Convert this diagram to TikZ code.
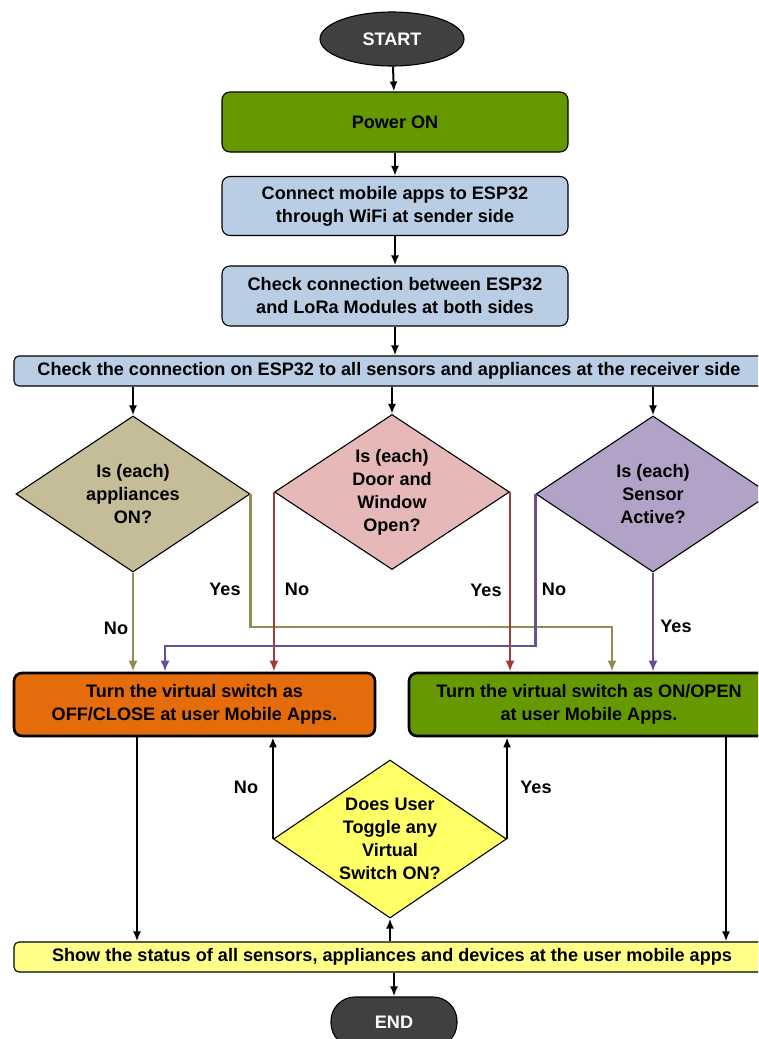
\documentclass[tikz,border=0pt]{standalone}
\usepackage{fontspec}
\setmainfont{Liberation Sans}
\usetikzlibrary{shapes.geometric, arrows.meta}

\begin{document}
\begin{tikzpicture}[x=1pt, y=-1pt, font=\fontsize{18.1}{23}\selectfont\bfseries,
	stepbox/.style={draw, rectangle, rounded corners=8pt, line width=1.1pt, align=center, inner sep=0pt},
	endbox/.style={draw, line width=1.1pt, fill=termgray, text=white, inner sep=0pt},
	askbox/.style={draw, diamond, aspect=1.5, line width=1.1pt, align=center, inner sep=0pt},
	flow/.style={line width=2pt, -{Latex[length=10pt, width=8pt]}},
	branch/.style={line width=2.8pt, -{Latex[length=11pt, width=9pt]}}]

	\definecolor{termgray}{RGB}{64 64 64}
	\definecolor{powergreen}{RGB}{102 153 0}
	\definecolor{stepblue}{RGB}{185 205 229}
	\definecolor{apptan}{RGB}{196 189 151}
	\definecolor{appline}{RGB}{148 138 84}
	\definecolor{doorpink}{RGB}{230 185 184}
	\definecolor{doorline}{RGB}{160 60 58}
	\definecolor{sensviolet}{RGB}{179 162 199}
	\definecolor{sensline}{RGB}{106 80 144}
	\definecolor{offorange}{RGB}{228 108 10}
	\definecolor{toggleyellow}{RGB}{255 255 102}
	\definecolor{statusyellow}{RGB}{255 255 136}

	% page
	\useasboundingbox (0,0) rectangle (758,1039);
	\clip (0,0) rectangle (758,1039);

	% sender side
	\node[endbox, ellipse, minimum width=144pt, minimum height=54pt] (start) at (392,39) {START};
	\node[stepbox, fill=powergreen, minimum width=346pt, minimum height=60pt] (power) at (395,122) {Power ON};
	\node[stepbox, fill=stepblue, minimum width=346pt, minimum height=59pt] (wifi) at (395,206) {Connect mobile apps to ESP32\\through WiFi at sender side};
	\node[stepbox, fill=stepblue, minimum width=346pt, minimum height=60pt] (lora) at (395,296) {Check connection between ESP32\\and LoRa Modules at both sides};

	% receiver side
	\node[stepbox, rounded corners=5pt, fill=stepblue, minimum width=750pt, minimum height=30pt] (check) at (389,371) {Check the connection on ESP32 to all sensors and appliances at the receiver side};

	\node[askbox, fill=apptan, minimum width=234pt, minimum height=156pt] (app) at (133,494) {Is (each)\\appliances\\ON?};
	\node[askbox, fill=doorpink, minimum width=235pt, minimum height=155pt] (door) at (392,492) {Is (each)\\Door and\\Window\\Open?};
	\node[askbox, fill=sensviolet, minimum width=234pt, minimum height=156pt] (sens) at (653,494) {Is (each)\\Sensor\\Active?};

	\node[stepbox, line width=2.6pt, fill=offorange, minimum width=361pt, minimum height=63pt] (off) at (194.5,704.5) {Turn the virtual switch as\\OFF/CLOSE at user Mobile Apps.};
	\node[stepbox, line width=2.6pt, fill=powergreen, minimum width=360pt, minimum height=63pt] (on) at (589,704.5) {Turn the virtual switch as ON/OPEN\\at user Mobile Apps.};

	\node[askbox, fill=toggleyellow, minimum width=233pt, minimum height=158pt] (toggle) at (390,839) {Does User\\Toggle any\\Virtual\\Switch ON?};

	\node[stepbox, rounded corners=5pt, fill=statusyellow, minimum width=756pt, minimum height=30pt] (status) at (392,957) {Show the status of all sensors, appliances and devices at the user mobile apps};
	\node[endbox, rectangle, rounded corners=24pt, minimum width=126pt, minimum height=50pt] (end) at (394,1022) {END};

	% bends of the branches
	\coordinate (appYes) at (612,627);
	\coordinate (sensNo) at (165,646);
	\coordinate (offOut) at (137,0);
	\coordinate (onOut) at (726,0);

	% main line
	\draw[flow] (start) -- (power);
	\draw[flow] (power) -- (wifi);
	\draw[flow] (wifi) -- (lora);
	\draw[flow] (lora) -- (lora |- check.north);
	\foreach \q in {app, door, sens}
		\draw[flow] (check.south -| \q) -- (\q.north);

	% branches
	\draw[branch, appline] (app.south) -- (app.south |- off.north);
	\draw[branch, appline] (app.east) |- (appYes) -- (appYes |- on.north);
	\draw[branch, doorline] (door.west) -- (door.west |- off.north);
	\draw[branch, doorline] (door.east) -- (door.east |- on.north);
	\draw[branch, sensline] (sens.west) |- (sensNo) -- (sensNo |- off.north);
	\draw[branch, sensline] (sens.south) -- (sens.south |- on.north);

	% status
	\draw[flow] (off.south -| offOut) -- (status.north -| offOut);
	\draw[flow] (on.south -| onOut) -- (status.north -| onOut);
	\draw[flow] (status.north -| toggle) -- (toggle.south);
	\draw[flow] (toggle.west) -- (toggle.west |- off.south);
	\draw[flow] (toggle.east) -- (toggle.east |- on.south);
	\draw[flow] (status.south -| end) -- (end.north);

	% labels
	\foreach \x/\y/\t in {116/628/No, 225/589/Yes, 297/589/No, 486/590/Yes, 554/589/No, 676/626/Yes, 246/787/No, 536/787/Yes}
		\node (lbl\x) at (\x,\y) {\t};
\end{tikzpicture}
\end{document}
